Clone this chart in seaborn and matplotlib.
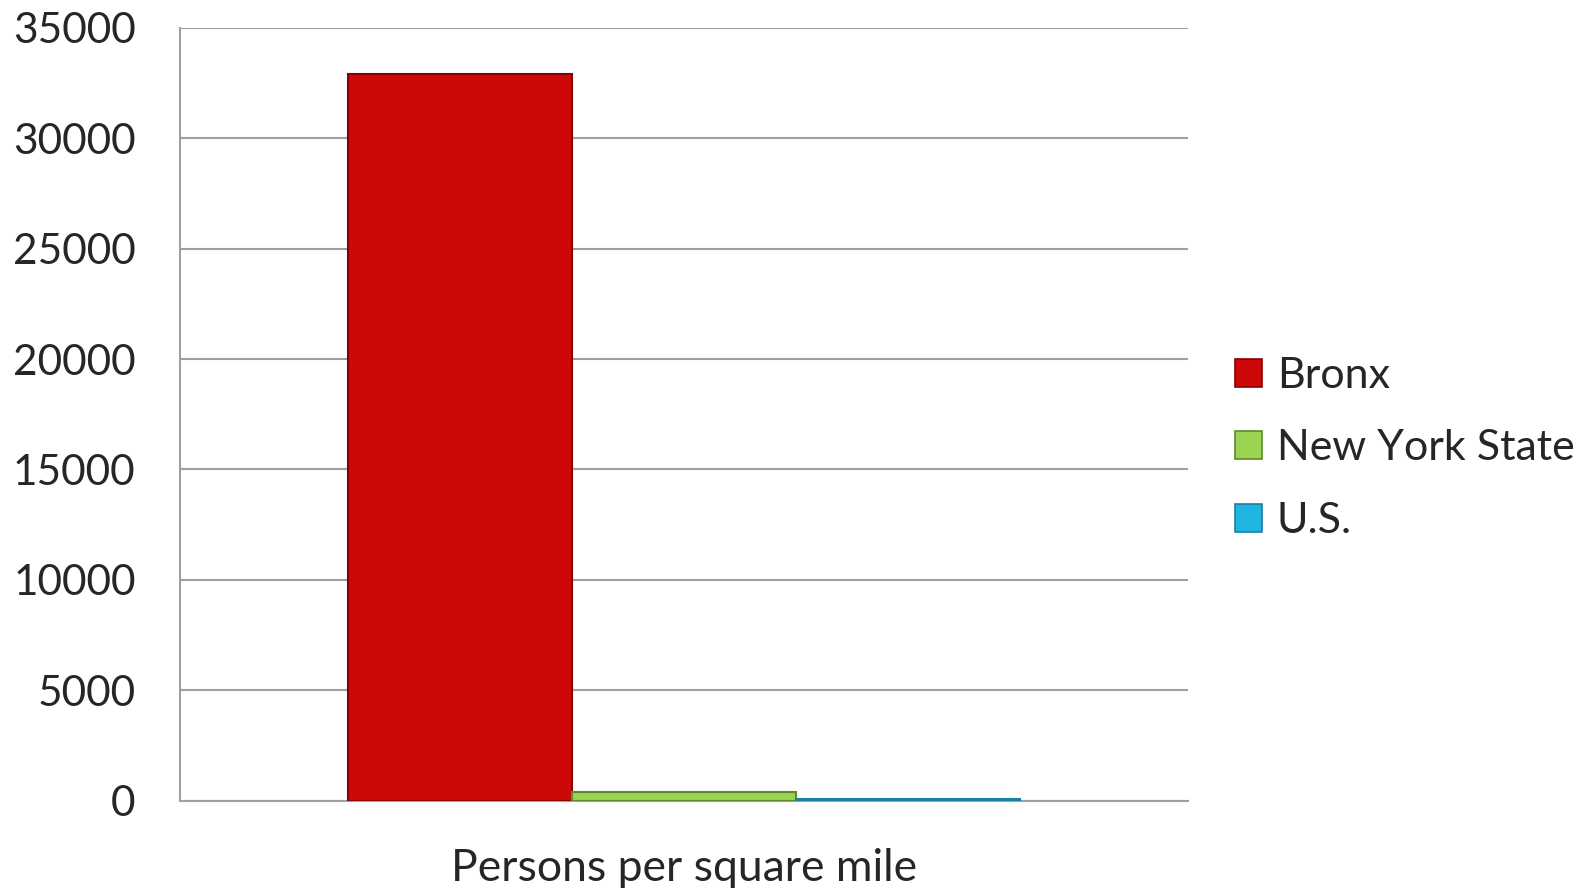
import numpy as np
import pandas as pd
import matplotlib
matplotlib.use("Agg")
import matplotlib.pyplot as plt
import seaborn as sns
from matplotlib.patches import Patch

# ---------- Data ----------
category = ["Persons per square mile"]
regions = ["Bronx", "New York State", "U.S."]
density = [32900, 411, 87]

face_colors = ["#CC0808", "#9BD353", "#1FB5E0"]
edge_colors = ["#8A0000", "#5E8A2A", "#1A7FA0"]

df = pd.DataFrame({
    "Measure": category * len(regions),
    "Region": regions,
    "Density": density,
})

# ---------- Plot ----------
sns.set_style("white")
plt.rcParams["font.family"] = ["Lato", "DejaVu Sans"]

fig = plt.figure(figsize=(15.94, 8.88), dpi=100)
ax = fig.add_axes([0.113, 0.098, 0.632, 0.871])

sns.barplot(
    data=df, x="Measure", y="Density", hue="Region",
    palette=face_colors, width=0.667, ax=ax, legend=False,
    saturation=1, zorder=3,
)
for patch, ec in zip(ax.patches, edge_colors):
    patch.set_edgecolor(ec)
    patch.set_linewidth(1.5)

ax.set_ylim(0, 35000)
ax.set_xlim(-0.5, 0.5)
ax.set_yticks(np.arange(0, 35001, 5000))
ax.yaxis.grid(True, color="#A0A0A0", linewidth=1.5, zorder=0)
ax.set_axisbelow(True)

for side in ["top", "right"]:
    ax.spines[side].set_visible(False)
for side in ["left", "bottom"]:
    ax.spines[side].set_color("#A0A0A0")
    ax.spines[side].set_linewidth(1.5)

ax.tick_params(axis="y", which="major", length=9, width=1.5, color="#A0A0A0",
               direction="out", labelsize=30.5, pad=23)
ax.tick_params(axis="x", which="major", length=0, labelsize=32, pad=34)
ax.set_xticks([-0.5, 0.5], minor=True)
ax.tick_params(axis="x", which="minor", length=12, width=1.5, color="#A0A0A0",
               direction="out")
ax.set_xlabel("")
ax.set_ylabel("")

handles = [Patch(facecolor=fc, edgecolor=ec, linewidth=1.2)
           for fc, ec in zip(face_colors, edge_colors)]
fig.legend(handles, regions, loc="center left", bbox_to_anchor=(0.764, 0.495),
           frameon=False, fontsize=31, handlelength=0.62, handleheight=0.62,
           handletextpad=0.35, labelspacing=0.8, borderaxespad=0)

fig.savefig("out.png", dpi=100)
